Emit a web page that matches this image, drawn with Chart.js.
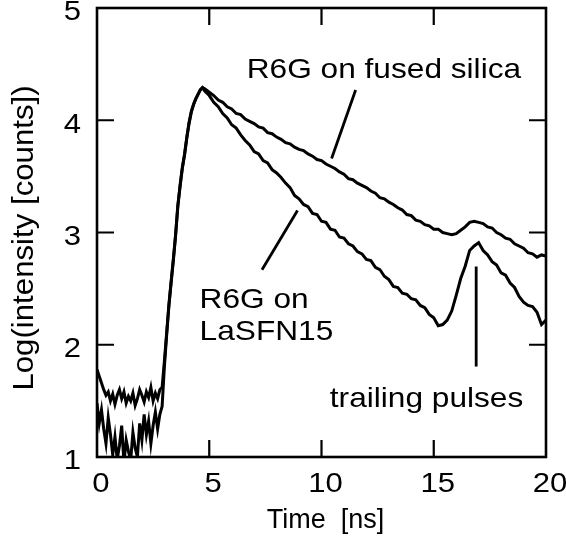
<!DOCTYPE html>
<html>
<head>
<meta charset="utf-8">
<script src="https://cdn.jsdelivr.net/npm/chart.js@4"></script>
<style>
  body { margin: 0; background: #fff; }
  canvas { display: block; }
</style>
</head>
<body>
<canvas id="decayChart" width="566" height="545"></canvas>
<script>
// time axis (ns)
const timeNs = [
  0, 0.1, 0.2, 0.3, 0.4, 0.5, 0.6, 0.7, 0.8, 0.9,
  1.0, 1.1, 1.2, 1.3, 1.4, 1.5, 1.6, 1.7, 1.8, 1.9,
  2.0, 2.1, 2.2, 2.3, 2.4, 2.5, 2.6, 2.7, 2.8, 2.9,
  3.0, 3.1, 3.2, 3.3, 3.4, 3.5, 3.6, 3.7, 3.8, 3.9,
  4.0, 4.1, 4.2, 4.3, 4.4, 4.5, 4.6, 4.7, 4.8,
  5.0, 5.2, 5.4, 5.6, 5.8, 6.0, 6.2, 6.4, 6.6, 6.8,
  7.0, 7.2, 7.4, 7.6, 7.8, 8.0, 8.2, 8.4, 8.6, 8.8,
  9.0, 9.2, 9.4, 9.6, 9.8, 10.0, 10.2, 10.4, 10.6, 10.8,
  11.0, 11.2, 11.4, 11.6, 11.8, 12.0, 12.2, 12.4, 12.6, 12.8,
  13.0, 13.2, 13.4, 13.6, 13.8, 14.0, 14.2, 14.4, 14.6, 14.8,
  15.0, 15.2, 15.4, 15.6, 15.8, 16.0, 16.2, 16.4, 16.6, 16.8,
  17.0, 17.2, 17.4, 17.6, 17.8, 18.0, 18.2, 18.4, 18.6, 18.8,
  19.0, 19.2, 19.4, 19.6, 19.8, 20.0
];

// R6G on fused silica, log10(counts)
const fusedSilica = [
  1.78, 1.72, 1.66, 1.60, 1.55, 1.58, 1.50, 1.56, 1.47, 1.55,
  1.60, 1.52, 1.58, 1.48, 1.54, 1.50, 1.57, 1.46, 1.52, 1.60,
  1.55, 1.49, 1.58, 1.53, 1.62, 1.50, 1.57, 1.52, 1.60, 1.62,
  1.85, 2.10, 2.35, 2.56, 2.76, 2.98, 3.24, 3.42, 3.58, 3.70,
  3.85, 3.98, 4.08, 4.14, 4.19, 4.23, 4.27, 4.29, 4.28,
  4.25, 4.22, 4.18, 4.16, 4.12, 4.10, 4.06, 4.05, 4.01, 3.99,
  3.97, 3.94, 3.93, 3.89, 3.88, 3.85, 3.83, 3.80, 3.79, 3.76,
  3.74, 3.73, 3.70, 3.68, 3.65, 3.64, 3.61, 3.59, 3.57, 3.54,
  3.52, 3.48, 3.47, 3.44, 3.42, 3.40, 3.37, 3.35, 3.31, 3.30,
  3.27, 3.25, 3.22, 3.20, 3.16, 3.15, 3.11, 3.10, 3.07, 3.06,
  3.03, 3.03, 3.00, 2.99, 2.98, 2.99, 3.02, 3.05, 3.09, 3.10,
  3.09, 3.08, 3.05, 3.04, 3.00, 2.98, 2.95, 2.94, 2.90, 2.88,
  2.86, 2.82, 2.81, 2.78, 2.80, 2.79
];

// R6G on LaSFN15, log10(counts)
const lasfn15 = [
  1.48, 1.30, 1.42, 1.25, 1.12, 1.35, 1.20, 1.02, 1.18, 0.98,
  1.10, 1.28, 0.95, 1.15, 1.05, 0.97, 1.22, 1.08, 1.00, 1.30,
  1.15, 1.38, 1.20, 1.32, 1.12, 1.28, 1.40, 1.25, 1.38, 1.45,
  1.80, 2.08, 2.34, 2.55, 2.75, 2.97, 3.23, 3.41, 3.57, 3.69,
  3.84, 3.97, 4.07, 4.14, 4.19, 4.23, 4.27, 4.29, 4.26,
  4.22, 4.16, 4.12, 4.06, 4.02, 3.96, 3.93, 3.87, 3.82, 3.78,
  3.72, 3.70, 3.64, 3.62, 3.56, 3.53, 3.49, 3.44, 3.40, 3.33,
  3.30, 3.25, 3.23, 3.17, 3.16, 3.10, 3.09, 3.03, 3.02, 2.96,
  2.95, 2.90, 2.88, 2.83, 2.81, 2.76, 2.75, 2.69, 2.67, 2.61,
  2.58, 2.52, 2.51, 2.46, 2.45, 2.41, 2.40, 2.35, 2.33, 2.27,
  2.24, 2.17, 2.18, 2.22, 2.30, 2.44, 2.59, 2.70, 2.84, 2.88,
  2.91, 2.84, 2.80, 2.74, 2.71, 2.64, 2.62, 2.55, 2.51, 2.43,
  2.38, 2.35, 2.34, 2.29, 2.18, 2.22
];

const xTicks = [0, 5, 10, 15, 20];
const yTicks = [1, 2, 3, 4, 5];
const xTickLabels = ["0", "5", "10", "15", "20"];
const yTickLabels = ["1", "2", "3", "4", "5"];
const xTitle = "Time  [ns]";
const yTitle = "Log(intensity [counts])";

// annotation text, anchored in data units (left edge, baseline)
const labelTexts = ["R6G on fused silica", "R6G on", "LaSFN15", "trailing pulses"];
const labelX = [6.67, 4.57, 4.57, 10.37];
const labelY = [4.38, 2.33, 2.045, 1.447];

// pointer lines [x1, y1, x2, y2] in data units
const pointerFused = [11.52, 4.27, 10.45, 3.66];
const pointerLasfn = [8.93, 3.196, 7.35, 2.668];
const pointerTrailing = [16.89, 2.697, 16.89, 1.806];

const FONT = "'Liberation Sans', Arial, Helvetica, sans-serif";

const toPoints = (values) => timeNs.map((t, i) => ({ x: t, y: values[i] }));

// the original lettering is a bit wider than Arial, so stretch it horizontally
function wideText(ctx, txt, x, y, align, baseline, stretch, angle) {
  ctx.save();
  ctx.translate(x, y);
  if (angle) ctx.rotate(angle);
  ctx.scale(stretch, 1);
  ctx.textAlign = align;
  ctx.textBaseline = baseline;
  ctx.fillText(txt, 0, 0);
  ctx.restore();
}

// frame, inward ticks, labels and pointers
const framePlugin = {
  id: "framePlugin",
  afterDatasetsDraw(chart) {
    const { ctx, chartArea: a, scales } = chart;
    const sx = scales.x, sy = scales.y;
    const tick = 17;
    ctx.save();
    ctx.strokeStyle = "#000";
    ctx.lineCap = "butt";
    ctx.lineWidth = 2.2;
    ctx.beginPath();
    xTicks.slice(1, -1).forEach((v) => {
      const px = sx.getPixelForValue(v);
      ctx.moveTo(px, a.bottom); ctx.lineTo(px, a.bottom - tick);
      ctx.moveTo(px, a.top); ctx.lineTo(px, a.top + tick);
    });
    yTicks.slice(1, -1).forEach((v) => {
      const py = sy.getPixelForValue(v);
      ctx.moveTo(a.left, py); ctx.lineTo(a.left + tick, py);
      ctx.moveTo(a.right, py); ctx.lineTo(a.right - tick, py);
    });
    ctx.stroke();
    ctx.lineWidth = 2.6;
    ctx.strokeRect(a.left, a.top, a.right - a.left, a.bottom - a.top);

    ctx.lineWidth = 2.8;
    [pointerFused, pointerLasfn, pointerTrailing].forEach((p) => {
      ctx.beginPath();
      ctx.moveTo(sx.getPixelForValue(p[0]), sy.getPixelForValue(p[1]));
      ctx.lineTo(sx.getPixelForValue(p[2]), sy.getPixelForValue(p[3]));
      ctx.stroke();
    });

    ctx.fillStyle = "#000";
    ctx.font = "27px " + FONT;
    xTicks.forEach((v, i) => {
      wideText(ctx, xTickLabels[i], sx.getPixelForValue(v) + 4, a.bottom + 35, "center", "alphabetic", 1.15);
    });
    yTicks.forEach((v, i) => {
      wideText(ctx, yTickLabels[i], a.left - 16, sy.getPixelForValue(v) + 5, "right", "middle", 1.15);
    });
    wideText(ctx, xTitle, (a.left + a.right) / 2 + 4, a.bottom + 71, "center", "alphabetic", 1.0);

    ctx.font = "30px " + FONT;
    wideText(ctx, yTitle, 33, 238, "center", "alphabetic", 1.04, -Math.PI / 2);

    ctx.font = "28px " + FONT;
    labelTexts.forEach((txt, i) => {
      wideText(ctx, txt, sx.getPixelForValue(labelX[i]), sy.getPixelForValue(labelY[i]), "left", "alphabetic", 1.13);
    });
    ctx.restore();
  },
};

const noPad = (scale) => {
  scale.paddingTop = 0; scale.paddingBottom = 0;
  scale.paddingLeft = 0; scale.paddingRight = 0;
};

const ctx = document.getElementById("decayChart").getContext("2d");
const decayChart = new Chart(ctx, {
  type: "line",
  data: {
    datasets: [
      {
        label: "R6G on fused silica",
        data: toPoints(fusedSilica),
        borderColor: "#000",
        borderWidth: 3,
        pointRadius: 0,
        tension: 0,
      },
      {
        label: "R6G on LaSFN15",
        data: toPoints(lasfn15),
        borderColor: "#000",
        borderWidth: 3,
        pointRadius: 0,
        tension: 0,
      },
    ],
  },
  options: {
    responsive: false,
    animation: false,
    devicePixelRatio: 1,
    layout: { padding: { top: 8, right: 20, left: 0, bottom: 0 } },
    plugins: {
      legend: { display: false },
      tooltip: { enabled: false },
    },
    scales: {
      x: {
        type: "linear",
        min: 0,
        max: 20,
        afterFit: (scale) => { scale.height = 88; noPad(scale); },
        afterBuildTicks: (scale) => { scale.ticks = xTicks.map((v) => ({ value: v })); },
        grid: { display: false, drawTicks: false },
        border: { display: false },
        ticks: { display: false },
      },
      y: {
        type: "linear",
        min: 1,
        max: 5,
        afterFit: (scale) => { scale.width = 97; noPad(scale); },
        afterBuildTicks: (scale) => { scale.ticks = yTicks.map((v) => ({ value: v })); },
        grid: { display: false, drawTicks: false },
        border: { display: false },
        ticks: { display: false },
      },
    },
  },
  plugins: [framePlugin],
});
</script>
</body>
</html>
